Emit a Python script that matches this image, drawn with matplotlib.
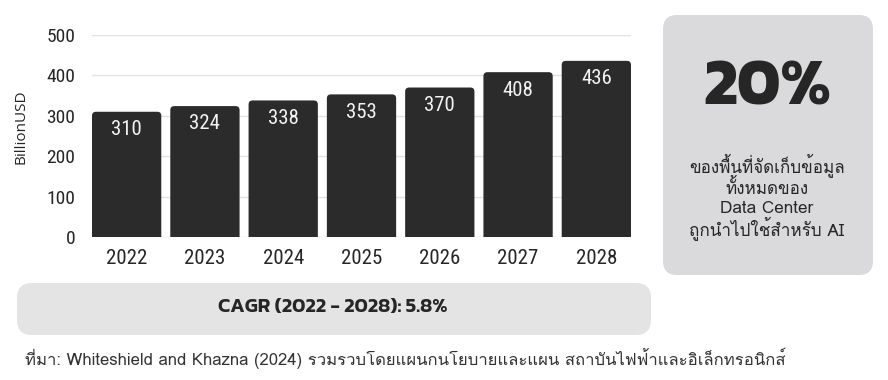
import matplotlib
matplotlib.use("Agg")
import matplotlib.pyplot as plt
from matplotlib.patches import FancyBboxPatch

# ---------- data ----------
years = ["2022", "2023", "2024", "2025", "2026", "2027", "2028"]
values = [310, 324, 338, 353, 370, 408, 436]
y_ticks = [0, 100, 200, 300, 400, 500]
y_label = "BillionUSD"
cagr_text = "CAGR (2022 - 2028): 5.8%"
big_number = "20%"
box_lines = ["ของพื้นที่จัดเก็บข้อมูล", "ทั้งหมดของ", "Data Center", "ถูกนำไปใช้สำหรับ AI"]
source_text = ("ที่มา: Whiteshield and Khazna (2024) รวมรวบโดยแผนกนโยบายและแผน "
               "สถาบันไฟฟ้าและอิเล็กทรอนิกส์")

# ---------- style ----------
BAR = "#2b2b2b"
BOX = "#dadadc"
CAGR_BOX = "#e4e4e4"
TXT = "#262626"
NUM_FONT = ["Roboto Condensed", "DejaVu Sans"]
HEAD_FONT = ["Kanit", "DejaVu Sans"]
# Loma keeps Thai tone marks above upper vowels without text shaping
THAI_FONT = ["Loma", "FreeSerif"]

fig = plt.figure(figsize=(8.88, 3.8), dpi=100)
fig.patch.set_facecolor("white")

ax = fig.add_axes([92 / 888, 1 - 237 / 380, 539 / 888, 202 / 380])

bar_w = 0.885
x = list(range(len(years)))
bars = ax.bar(x, values, width=bar_w, color=BAR, zorder=3)

# swap plain bars for ones with rounded corners (aspect-corrected)
ax.set_xlim(-bar_w / 2, len(years) - 1 + bar_w / 2)
ax.set_ylim(0, 500)
px_x = 539 / (len(years) - 1 + bar_w)   # px per x unit
px_y = 202 / 500                         # px per y unit
r_px = 4
for b in bars:
    b.set_visible(False)
    fb = FancyBboxPatch((b.get_x(), -20), b.get_width(), b.get_height() + 20,
                        boxstyle=f"round,pad=0,rounding_size={r_px / px_x}",
                        mutation_aspect=px_x / px_y,
                        facecolor=BAR, edgecolor="none", zorder=3)
    ax.add_patch(fb)

for xi, v in zip(x, values):
    ax.annotate(str(v), (xi, v), xytext=(0, -6), textcoords="offset points",
                ha="center", va="top", color="#f2f2f2", fontsize=15,
                family=NUM_FONT, zorder=4)

ax.set_yticks(y_ticks)
ax.set_xticks(x)
ax.set_xticklabels(years)
ax.tick_params(axis="both", length=0)
ax.tick_params(axis="y", pad=12, labelsize=14)
ax.tick_params(axis="x", pad=9, labelsize=15)
for lab in ax.get_xticklabels() + ax.get_yticklabels():
    lab.set_family(NUM_FONT)
    lab.set_color(TXT)
ax.grid(axis="y", color="#e2e2e2", lw=1, zorder=0)
ax.set_axisbelow(True)
for s in ax.spines.values():
    s.set_visible(False)

fig.text(21 / 888, 1 - 127 / 380, y_label, rotation=90, ha="center", va="center",
         fontsize=11, family=["Open Sans", "DejaVu Sans"], color=TXT)

# ---------- right info box ----------
inch = fig.dpi_scale_trans
fig.patches.append(FancyBboxPatch((6.63, 1.05), 2.10, 2.60,
                                  boxstyle="round,pad=0,rounding_size=0.14",
                                  facecolor=BOX, edgecolor="none", transform=inch))
fig.text(767 / 888, 1 - 90 / 380, big_number, ha="center", va="center",
         fontsize=47, weight="bold", family=HEAD_FONT, color=TXT)
for line, ypix in zip(box_lines, [165, 188, 209, 228]):
    fig.text(767 / 888, 1 - ypix / 380, line, ha="center", va="center",
             fontsize=12.3, family=THAI_FONT, color=TXT)

# ---------- CAGR bar ----------
fig.patches.append(FancyBboxPatch((0.17, 0.45), 6.34, 0.52,
                                  boxstyle="round,pad=0,rounding_size=0.15",
                                  facecolor=CAGR_BOX, edgecolor="none", transform=inch))
fig.text(333 / 888, 1 - 307 / 380, cagr_text, ha="center", va="center",
         fontsize=14.5, weight="semibold", family=HEAD_FONT, color=TXT)

# ---------- source ----------
fig.text(25 / 888, 1 - 358 / 380, source_text, ha="left", va="center",
         fontsize=12, family=THAI_FONT, color="#333333")

plt.savefig("out.png", dpi=100)
